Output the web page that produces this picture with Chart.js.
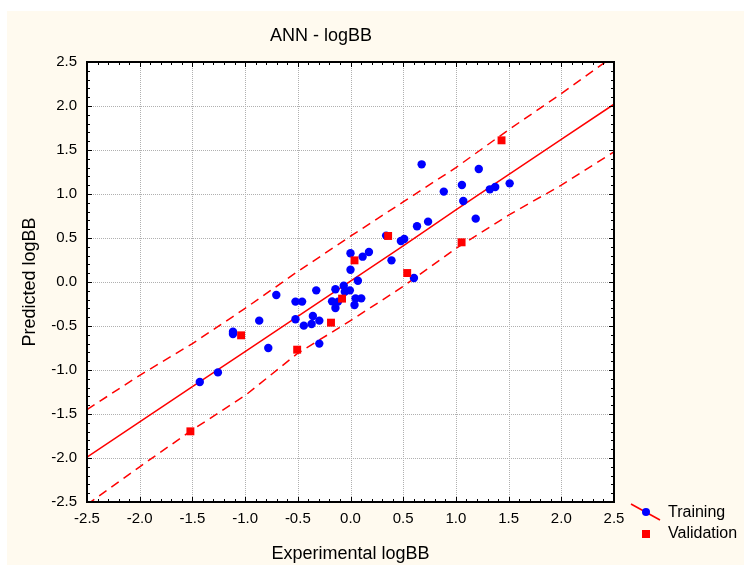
<!DOCTYPE html>
<html>
<head>
<meta charset="utf-8">
<script src="https://cdn.jsdelivr.net/npm/chart.js@4.4.1/dist/chart.umd.min.js"></script>
<style>
  html, body { margin: 0; padding: 0; background: #ffffff; }
  #wrap { width: 744px; height: 565px; }
</style>
</head>
<body>
<div id="wrap"><canvas id="c" width="744" height="565"></canvas></div>
<script>
// ---- data ----
const chartTitle = 'ANN - logBB';
const xAxisTitle = 'Experimental logBB';
const yAxisTitle = 'Predicted logBB';
const seriesNames = ['Training', 'Validation'];

const xTickLabels = ['-2.5', '-2.0', '-1.5', '-1.0', '-0.5', '0.0', '0.5', '1.0', '1.5', '2.0', '2.5'];
const yTickLabels = ['-2.5', '-2.0', '-1.5', '-1.0', '-0.5', '0.0', '0.5', '1.0', '1.5', '2.0', '2.5'];

const trainX = [0.675, 1.217, 0.885, 1.057, 1.070, 1.322, 1.373, 1.510, 1.188, 0.631,
                0.736, 0.338, 0.478, 0.510, 0.389, 0.602, 0.000, 0.115, 0.175, 0.000,
                0.070, -0.064, -0.143, -0.054, -0.006, -0.325, -0.522, -0.459, -0.175, -0.118,
                -0.143, 0.048, 0.102, 0.038, -0.704, -0.866, -0.522, -0.443, -0.357, -0.369,
                -0.296, -1.115, -1.115, -0.780, -0.296, -1.258, -1.430];
const trainY = [1.337, 1.284, 1.027, 1.102, 0.920, 1.053, 1.080, 1.121, 0.720, 0.633,
                0.686, 0.527, 0.466, 0.489, 0.246, 0.045, 0.326, 0.288, 0.341, 0.140,
                0.015, -0.042, -0.083, -0.110, -0.095, -0.095, -0.223, -0.223, -0.220, -0.223,
                -0.295, -0.186, -0.186, -0.261, -0.148, -0.439, -0.424, -0.496, -0.386, -0.477,
                -0.439, -0.564, -0.591, -0.750, -0.700, -1.027, -1.136];

const validX = [-1.519, -1.038, -0.506, -0.185, -0.080, 0.038, 0.357, 0.538, 1.054, 1.433];
const validY = [-1.697, -0.606, -0.769, -0.462, -0.189, 0.246, 0.523, 0.102, 0.451, 1.610];

// regression line and its dashed band, read at these x positions
const bandX  = [-2.5, -2.0, -1.5, -1.0, -0.5, 0.0, 0.5, 1.0, 1.5, 2.0, 2.5];
const fitY   = [-1.99, -1.59, -1.19, -0.79, -0.39, 0.01, 0.41, 0.82, 1.22, 1.62, 2.02];
const upperY = [-1.45, -1.06, -0.70, -0.30, 0.12, 0.52, 0.91, 1.30, 1.73, 2.14, 2.57];
const lowerY = [-2.53, -2.10, -1.68, -1.29, -0.81, -0.44, -0.05, 0.38, 0.76, 1.10, 1.48];

// ---- build ----
const zip = (xs, ys) => xs.map((x, i) => ({ x: x, y: ys[i] }));
const FONT = "'Liberation Sans', Arial, sans-serif";
const RED = '#ff0000', BLUE = '#0000ff';

const decorPlugin = {
  id: 'decor',
  beforeDraw(chart) {
    const ctx = chart.ctx, a = chart.chartArea;
    ctx.save();
    ctx.fillStyle = '#ffffff';
    ctx.fillRect(0, 0, chart.width, chart.height);
    ctx.fillStyle = '#fffaef';
    ctx.fillRect(7, 11, chart.width - 7, chart.height - 11);
    ctx.fillStyle = '#ffffff';
    ctx.fillRect(a.left, a.top, a.right - a.left, a.bottom - a.top);
    // dotted grid on major ticks
    const xs = chart.scales.x, ys = chart.scales.y;
    ctx.strokeStyle = '#b0b0b0';
    ctx.lineWidth = 1;
    ctx.setLineDash([1, 1]);
    xs.ticks.forEach(t => {
      const px = Math.round(xs.getPixelForValue(t.value)) + 0.5;
      ctx.beginPath(); ctx.moveTo(px, a.top); ctx.lineTo(px, a.bottom); ctx.stroke();
    });
    ys.ticks.forEach(t => {
      const py = Math.round(ys.getPixelForValue(t.value)) + 0.5;
      ctx.beginPath(); ctx.moveTo(a.left, py); ctx.lineTo(a.right, py); ctx.stroke();
    });
    ctx.restore();
  },
  afterDatasetsDraw(chart) {
    const ctx = chart.ctx, a = chart.chartArea;
    const xs = chart.scales.x, ys = chart.scales.y;
    ctx.save();
    // frame
    ctx.strokeStyle = '#000000';
    ctx.lineWidth = 2;
    ctx.setLineDash([]);
    ctx.strokeRect(a.left, a.top, a.right - a.left, a.bottom - a.top);
    // inside ticks: minor every 0.1, major every 0.5
    ctx.lineWidth = 1;
    for (let k = -25; k <= 25; k++) {
      const v = k / 10;
      const len = (k % 5 === 0) ? 5 : 3;
      const px = Math.round(xs.getPixelForValue(v)) + 0.5;
      const py = Math.round(ys.getPixelForValue(v)) + 0.5;
      ctx.beginPath();
      ctx.moveTo(px, a.bottom); ctx.lineTo(px, a.bottom - len);
      ctx.moveTo(px, a.top); ctx.lineTo(px, a.top + len);
      ctx.moveTo(a.left, py); ctx.lineTo(a.left + len, py);
      ctx.moveTo(a.right, py); ctx.lineTo(a.right - len, py);
      ctx.stroke();
    }
    // title
    ctx.fillStyle = '#000000';
    ctx.font = '18px ' + FONT;
    ctx.textAlign = 'center';
    ctx.textBaseline = 'alphabetic';
    ctx.fillText(chartTitle, 321, 41);
    // axis titles
    ctx.fillText(xAxisTitle, (a.left + a.right) / 2, 559);
    ctx.save();
    ctx.translate(35, (a.top + a.bottom) / 2);
    ctx.rotate(-Math.PI / 2);
    ctx.fillText(yAxisTitle, 0, 0);
    ctx.restore();
    // legend
    ctx.strokeStyle = RED;
    ctx.lineWidth = 1.5;
    ctx.beginPath(); ctx.moveTo(631, 504); ctx.lineTo(660, 520); ctx.stroke();
    ctx.fillStyle = BLUE;
    ctx.beginPath(); ctx.arc(646, 512, 4, 0, Math.PI * 2); ctx.fill();
    ctx.fillStyle = RED;
    ctx.fillRect(642, 530, 8, 8);
    ctx.fillStyle = '#000000';
    ctx.font = '16px ' + FONT;
    ctx.textAlign = 'left';
    ctx.textBaseline = 'middle';
    ctx.fillText(seriesNames[0], 668, 513);
    ctx.fillText(seriesNames[1], 668, 534);
    ctx.restore();
  }
};

const lineDs = (label, ys, dash) => ({
  label: label, type: 'line', data: zip(bandX, ys), showLine: true,
  borderColor: RED, borderWidth: 1.5, borderDash: dash, pointRadius: 0,
  fill: false, tension: 0, order: 3
});

new Chart(document.getElementById('c'), {
  type: 'scatter',
  data: {
    datasets: [
      { label: seriesNames[1], data: zip(validX, validY), pointStyle: 'rect',
        pointRadius: 5.6, pointBackgroundColor: RED, pointBorderWidth: 0, borderColor: RED, order: 0 },
      { label: seriesNames[0], data: zip(trainX, trainY), pointStyle: 'circle',
        pointRadius: 4.2, pointBackgroundColor: BLUE, pointBorderWidth: 0, borderColor: BLUE, order: 1 },
      lineDs('fit', fitY, []),
      lineDs('upper', upperY, [9, 6]),
      lineDs('lower', lowerY, [9, 6])
    ]
  },
  options: {
    responsive: false,
    animation: false,
    events: [],
    layout: { padding: { top: 62, right: 130, left: 0, bottom: 0 } },
    plugins: { legend: { display: false }, title: { display: false }, tooltip: { enabled: false } },
    scales: {
      x: {
        type: 'linear', min: -2.5, max: 2.5,
        grid: { display: false, drawTicks: false },
        border: { display: false },
        ticks: { stepSize: 0.5, padding: 8, color: '#000', font: { family: FONT, size: 15 },
                 maxRotation: 0, autoSkip: false,
                 callback: (v, i) => xTickLabels[i] },
        afterFit: s => { s.height = 63; }
      },
      y: {
        type: 'linear', min: -2.5, max: 2.5,
        grid: { display: false, drawTicks: false },
        border: { display: false },
        ticks: { stepSize: 0.5, padding: 10, color: '#000', font: { family: FONT, size: 15 },
                 autoSkip: false,
                 callback: (v, i) => yTickLabels[i] },
        afterFit: s => { s.width = 87; }
      }
    }
  },
  plugins: [decorPlugin]
});
</script>
</body>
</html>
